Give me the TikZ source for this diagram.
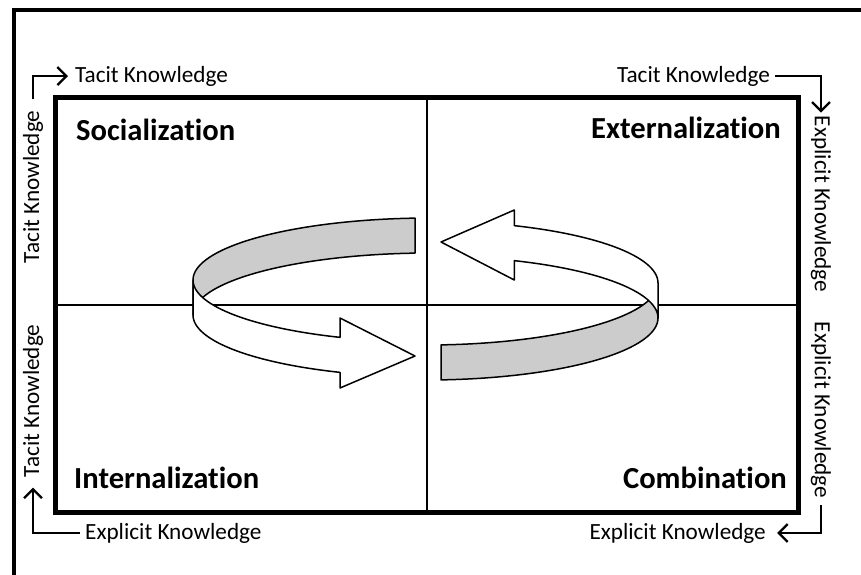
\documentclass[tikz,border=0pt]{standalone}
\usepackage{fontspec}
\setmainfont{Carlito}[Ligatures=CommonOff]
\usetikzlibrary{arrows.meta}
\begin{document}
\begin{tikzpicture}[x=1pt,y=-1pt,
  klabel/.style={font=\fontsize{23.2}{28}\selectfont, inner sep=0pt},
  qtitle/.style={font=\bfseries\fontsize{30.6}{36}\selectfont, inner sep=0pt},
  kar/.style={draw, line width=2.3pt, line join=miter, -{Straight Barb[length=9pt,width=18pt]}},
  ribbon/.style={draw, line width=1.5pt, line join=round},
  backband/.style={ribbon, fill=black!20},
  frontband/.style={ribbon, fill=white}]
\useasboundingbox (0,0) rectangle (861,574);
\clip (0,0) rectangle (861,574);
\fill[white] (0,0) rectangle (861,574);
% outer frame (partly outside the page)
\draw[line width=4pt] (14,600) -- (14,10) -- (900,10);
% quadrant lines
\coordinate (qtop) at (427,97);
\coordinate (qbot) at (427,512);
\coordinate (qleft) at (55,305);
\coordinate (qright) at (798,305);
\draw[line width=2.4pt] (qtop) -- (qbot);
\draw[line width=2.4pt] (qleft) -- (qright);
% ribbon arrows
\newcommand{\ribbonarrow}{%
  \path[backband] plot[domain=93.63:180, samples=50] ({430+237*cos(\x)},{280-62*sin(\x)})
     -- plot[domain=180:93.63, samples=50] ({430+237*cos(\x)},{315-62*sin(\x)}) -- cycle;
  \path[frontband] plot[domain=180:247.68, samples=50] ({430+237*cos(\x)},{280-62*sin(\x)})
     -- (340,318) -- (415,356) -- (340,388)
     -- plot[domain=247.68:180, samples=50] ({430+237*cos(\x)},{315-62*sin(\x)}) -- cycle;}
\ribbonarrow
\begin{scope}[shift={(846.66,598)}, xscale=-0.9775, yscale=-1]
\ribbonarrow
\end{scope}
% inner frame
\draw[line width=5pt] (55,97) rectangle (798,512);
% titles
\node[qtitle, anchor=base west] (soc) at (76,140) {Socialization};
\node[qtitle, anchor=base east] (ext) at (781,138) {Externalization};
\node[qtitle, anchor=base west] (int) at (74,488) {Internalization};
\node[qtitle, anchor=base east] (comb) at (787,488) {Combination};
% knowledge labels
\node[klabel, anchor=west] (tkTL) at (75,76) {Tacit Knowledge};
\node[klabel, anchor=east] (tkTR) at (770,76) {Tacit Knowledge};
\node[klabel, anchor=west] (ekBL) at (85,533) {Explicit Knowledge};
\node[klabel, anchor=east] (ekBR) at (766,533) {Explicit Knowledge};
\node[klabel, rotate=90] (tkL1) at (33,187) {Tacit Knowledge};
\node[klabel, rotate=90] (tkL2) at (33,401) {Tacit Knowledge};
\node[klabel, rotate=-90] (ekR1) at (821,204) {Explicit Knowledge};
\node[klabel, rotate=-90] (ekR2) at (821,410) {Explicit Knowledge};
% corner connectors
\draw[kar, shorten <=11pt, shorten >=7pt] (tkL1.east) |- (tkTL.west);
\draw[kar, shorten <=5pt, shorten >=3pt] (tkTR.east) -| (ekR1.west);
\draw[kar, shorten <=5pt, shorten >=10pt] (ekBL.west) -| (tkL2.west);
\draw[kar, shorten <=7pt, shorten >=11pt] (ekR2.east) |- (ekBR.east);
\end{tikzpicture}
\end{document}
